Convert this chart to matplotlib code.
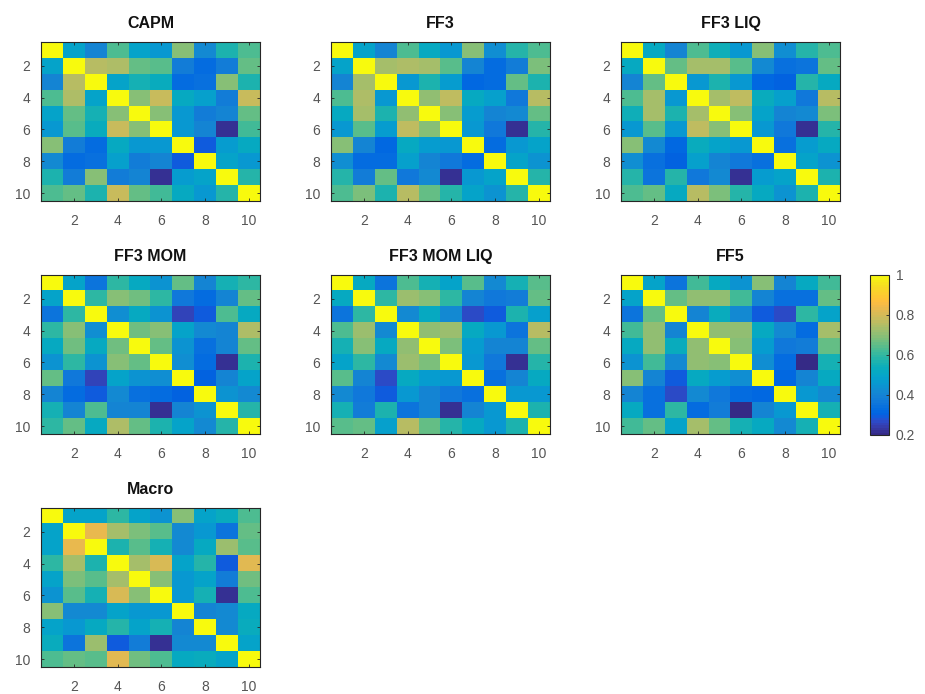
import numpy as np
import matplotlib
matplotlib.use("Agg")
import matplotlib.pyplot as plt
from matplotlib.colors import ListedColormap

plt.rcParams['font.family'] = ['Liberation Sans', 'DejaVu Sans']

titles = ["CAPM", "FF3", "FF3 LIQ", "FF3 MOM", "FF3 MOM LIQ", "FF5", "Macro"]
tick_vals = [2, 4, 6, 8, 10]
cbar_ticks = [0.2, 0.4, 0.6, 0.8, 1.0]
cbar_labels = ["0.2", "0.4", "0.6", "0.8", "1"]

capm = [
    [1.00, 0.50, 0.40, 0.63, 0.50, 0.45, 0.70, 0.42, 0.57, 0.63],
    [0.50, 1.00, 0.75, 0.74, 0.66, 0.64, 0.38, 0.33, 0.38, 0.65],
    [0.40, 0.75, 1.00, 0.50, 0.56, 0.53, 0.33, 0.35, 0.70, 0.57],
    [0.63, 0.74, 0.50, 1.00, 0.70, 0.78, 0.52, 0.48, 0.38, 0.78],
    [0.50, 0.66, 0.56, 0.70, 1.00, 0.69, 0.45, 0.38, 0.40, 0.65],
    [0.45, 0.64, 0.53, 0.78, 0.69, 1.00, 0.45, 0.40, 0.22, 0.62],
    [0.70, 0.38, 0.33, 0.52, 0.45, 0.45, 1.00, 0.30, 0.47, 0.52],
    [0.42, 0.33, 0.35, 0.48, 0.38, 0.40, 0.30, 1.00, 0.50, 0.45],
    [0.57, 0.38, 0.70, 0.38, 0.40, 0.22, 0.47, 0.50, 1.00, 0.58],
    [0.63, 0.65, 0.57, 0.78, 0.65, 0.62, 0.52, 0.45, 0.58, 1.00],
]

ff3 = [
    [1.00, 0.50, 0.40, 0.63, 0.52, 0.46, 0.70, 0.43, 0.58, 0.63],
    [0.50, 1.00, 0.73, 0.74, 0.73, 0.64, 0.40, 0.33, 0.38, 0.68],
    [0.40, 0.73, 1.00, 0.46, 0.57, 0.47, 0.32, 0.33, 0.66, 0.57],
    [0.63, 0.74, 0.46, 1.00, 0.71, 0.77, 0.52, 0.48, 0.37, 0.76],
    [0.52, 0.73, 0.57, 0.71, 1.00, 0.70, 0.47, 0.40, 0.42, 0.66],
    [0.46, 0.64, 0.47, 0.77, 0.70, 1.00, 0.46, 0.37, 0.22, 0.58],
    [0.70, 0.40, 0.32, 0.52, 0.47, 0.46, 1.00, 0.33, 0.46, 0.50],
    [0.43, 0.33, 0.33, 0.48, 0.40, 0.37, 0.33, 1.00, 0.50, 0.44],
    [0.58, 0.38, 0.66, 0.37, 0.42, 0.22, 0.46, 0.50, 1.00, 0.58],
    [0.63, 0.68, 0.57, 0.76, 0.66, 0.58, 0.50, 0.44, 0.58, 1.00],
]

ff3_liq = [
    [1.00, 0.52, 0.40, 0.63, 0.54, 0.46, 0.69, 0.43, 0.58, 0.63],
    [0.52, 1.00, 0.66, 0.73, 0.73, 0.64, 0.42, 0.35, 0.36, 0.66],
    [0.40, 0.66, 1.00, 0.46, 0.57, 0.46, 0.32, 0.31, 0.58, 0.52],
    [0.63, 0.73, 0.46, 1.00, 0.73, 0.77, 0.53, 0.48, 0.37, 0.75],
    [0.54, 0.73, 0.57, 0.73, 1.00, 0.70, 0.50, 0.41, 0.42, 0.68],
    [0.46, 0.64, 0.46, 0.77, 0.70, 1.00, 0.46, 0.37, 0.22, 0.58],
    [0.69, 0.42, 0.32, 0.53, 0.50, 0.46, 1.00, 0.35, 0.47, 0.52],
    [0.43, 0.35, 0.31, 0.48, 0.41, 0.37, 0.35, 1.00, 0.50, 0.44],
    [0.58, 0.36, 0.58, 0.37, 0.42, 0.22, 0.47, 0.50, 1.00, 0.57],
    [0.63, 0.66, 0.52, 0.75, 0.68, 0.58, 0.52, 0.44, 0.57, 1.00],
]

ff3_mom = [
    [1.00, 0.50, 0.36, 0.60, 0.52, 0.44, 0.66, 0.40, 0.55, 0.60],
    [0.50, 1.00, 0.60, 0.70, 0.67, 0.60, 0.37, 0.33, 0.40, 0.66],
    [0.36, 0.60, 1.00, 0.43, 0.52, 0.44, 0.26, 0.29, 0.63, 0.52],
    [0.60, 0.70, 0.43, 1.00, 0.67, 0.69, 0.50, 0.42, 0.40, 0.74],
    [0.52, 0.67, 0.52, 0.67, 1.00, 0.66, 0.44, 0.35, 0.41, 0.65],
    [0.44, 0.60, 0.44, 0.69, 0.66, 1.00, 0.43, 0.33, 0.22, 0.57],
    [0.66, 0.37, 0.26, 0.50, 0.44, 0.43, 1.00, 0.31, 0.40, 0.50],
    [0.40, 0.33, 0.29, 0.42, 0.35, 0.33, 0.31, 1.00, 0.44, 0.42],
    [0.55, 0.40, 0.63, 0.40, 0.41, 0.22, 0.40, 0.44, 1.00, 0.58],
    [0.60, 0.66, 0.52, 0.74, 0.65, 0.57, 0.50, 0.42, 0.58, 1.00],
]

ff3_mom_liq = [
    [1.00, 0.52, 0.36, 0.63, 0.55, 0.50, 0.64, 0.42, 0.56, 0.64],
    [0.52, 1.00, 0.60, 0.72, 0.70, 0.60, 0.40, 0.37, 0.38, 0.65],
    [0.36, 0.60, 1.00, 0.42, 0.52, 0.42, 0.27, 0.30, 0.57, 0.48],
    [0.63, 0.72, 0.42, 1.00, 0.71, 0.72, 0.52, 0.46, 0.36, 0.75],
    [0.55, 0.70, 0.52, 0.71, 1.00, 0.68, 0.47, 0.40, 0.41, 0.66],
    [0.50, 0.60, 0.42, 0.72, 0.68, 1.00, 0.46, 0.37, 0.22, 0.58],
    [0.64, 0.40, 0.27, 0.52, 0.47, 0.46, 1.00, 0.34, 0.40, 0.52],
    [0.42, 0.37, 0.30, 0.46, 0.40, 0.37, 0.34, 1.00, 0.46, 0.46],
    [0.56, 0.38, 0.57, 0.36, 0.41, 0.22, 0.40, 0.46, 1.00, 0.57],
    [0.64, 0.65, 0.48, 0.75, 0.66, 0.58, 0.52, 0.46, 0.57, 1.00],
]

ff5 = [
    [1.00, 0.50, 0.36, 0.62, 0.52, 0.44, 0.70, 0.40, 0.52, 0.62],
    [0.50, 1.00, 0.66, 0.71, 0.71, 0.62, 0.40, 0.34, 0.34, 0.65],
    [0.36, 0.66, 1.00, 0.41, 0.53, 0.42, 0.29, 0.27, 0.60, 0.50],
    [0.62, 0.71, 0.41, 1.00, 0.71, 0.71, 0.52, 0.42, 0.33, 0.73],
    [0.52, 0.71, 0.53, 0.71, 1.00, 0.69, 0.47, 0.37, 0.38, 0.66],
    [0.44, 0.62, 0.42, 0.71, 0.69, 1.00, 0.43, 0.33, 0.21, 0.55],
    [0.70, 0.40, 0.29, 0.52, 0.47, 0.43, 1.00, 0.32, 0.40, 0.52],
    [0.40, 0.34, 0.27, 0.42, 0.37, 0.33, 0.32, 1.00, 0.46, 0.42],
    [0.52, 0.34, 0.60, 0.33, 0.38, 0.21, 0.40, 0.46, 1.00, 0.55],
    [0.62, 0.65, 0.50, 0.73, 0.66, 0.55, 0.52, 0.42, 0.55, 1.00],
]

macro = [
    [1.00, 0.50, 0.50, 0.60, 0.50, 0.44, 0.69, 0.50, 0.53, 0.63],
    [0.50, 1.00, 0.83, 0.73, 0.68, 0.64, 0.42, 0.46, 0.36, 0.66],
    [0.50, 0.83, 1.00, 0.57, 0.64, 0.56, 0.42, 0.52, 0.72, 0.64],
    [0.60, 0.73, 0.57, 1.00, 0.73, 0.80, 0.50, 0.58, 0.30, 0.82],
    [0.50, 0.68, 0.64, 0.73, 1.00, 0.69, 0.46, 0.50, 0.38, 0.67],
    [0.44, 0.64, 0.56, 0.80, 0.69, 1.00, 0.46, 0.56, 0.22, 0.63],
    [0.69, 0.42, 0.42, 0.50, 0.46, 0.46, 1.00, 0.40, 0.42, 0.52],
    [0.50, 0.46, 0.52, 0.58, 0.50, 0.56, 0.40, 1.00, 0.42, 0.53],
    [0.53, 0.36, 0.72, 0.30, 0.38, 0.22, 0.42, 0.42, 1.00, 0.50],
    [0.63, 0.66, 0.64, 0.82, 0.67, 0.63, 0.52, 0.53, 0.50, 1.00],
]

matrices = [capm, ff3, ff3_liq, ff3_mom, ff3_mom_liq, ff5, macro]

parula_data = [
    [0.2081, 0.1663, 0.5292], [0.2116, 0.1898, 0.5777], [0.2123, 0.2138, 0.6270],
    [0.2081, 0.2386, 0.6771], [0.1959, 0.2645, 0.7279], [0.1707, 0.2919, 0.7792],
    [0.1253, 0.3242, 0.8303], [0.0591, 0.3598, 0.8683], [0.0117, 0.3875, 0.8820],
    [0.0060, 0.4086, 0.8828], [0.0165, 0.4266, 0.8786], [0.0329, 0.4430, 0.8720],
    [0.0498, 0.4586, 0.8641], [0.0629, 0.4737, 0.8554], [0.0723, 0.4887, 0.8467],
    [0.0779, 0.5040, 0.8384], [0.0793, 0.5200, 0.8312], [0.0749, 0.5375, 0.8263],
    [0.0641, 0.5570, 0.8240], [0.0488, 0.5772, 0.8228], [0.0343, 0.5966, 0.8199],
    [0.0265, 0.6137, 0.8135], [0.0239, 0.6287, 0.8038], [0.0231, 0.6418, 0.7913],
    [0.0228, 0.6535, 0.7768], [0.0267, 0.6642, 0.7607], [0.0384, 0.6743, 0.7436],
    [0.0590, 0.6838, 0.7254], [0.0843, 0.6928, 0.7062], [0.1133, 0.7015, 0.6859],
    [0.1453, 0.7098, 0.6646], [0.1801, 0.7177, 0.6424], [0.2178, 0.7250, 0.6193],
    [0.2586, 0.7317, 0.5954], [0.3022, 0.7376, 0.5712], [0.3482, 0.7424, 0.5473],
    [0.3953, 0.7459, 0.5244], [0.4420, 0.7481, 0.5033], [0.4871, 0.7491, 0.4840],
    [0.5300, 0.7491, 0.4661], [0.5709, 0.7485, 0.4494], [0.6099, 0.7473, 0.4337],
    [0.6473, 0.7456, 0.4188], [0.6834, 0.7435, 0.4044], [0.7184, 0.7411, 0.3905],
    [0.7525, 0.7384, 0.3768], [0.7858, 0.7356, 0.3633], [0.8185, 0.7327, 0.3498],
    [0.8507, 0.7299, 0.3360], [0.8824, 0.7274, 0.3217], [0.9139, 0.7258, 0.3063],
    [0.9450, 0.7261, 0.2886], [0.9739, 0.7314, 0.2666], [0.9938, 0.7455, 0.2403],
    [0.9990, 0.7653, 0.2164], [0.9955, 0.7861, 0.1967], [0.9880, 0.8066, 0.1794],
    [0.9789, 0.8271, 0.1633], [0.9697, 0.8481, 0.1475], [0.9626, 0.8705, 0.1309],
    [0.9589, 0.8949, 0.1132], [0.9598, 0.9218, 0.0948], [0.9661, 0.9514, 0.0755],
    [0.9763, 0.9831, 0.0538],
]
parula = ListedColormap(parula_data, name="parula")

W, H = 925, 694
fig = plt.figure(figsize=(W / 100, H / 100), dpi=100)

axc = '#262626'
col_left = [41, 331, 621]
row_top = [42, 275, 508]
aw, ah = 219, 159

def px_rect(x, y, w, h):
    return [x / W, 1 - (y + h) / H, w / W, h / H]

im = None
for i, (mat, title) in enumerate(zip(matrices, titles)):
    r, c = divmod(i, 3)
    ax = fig.add_axes(px_rect(col_left[c], row_top[r], aw, ah))
    data = np.array(mat)
    n = data.shape[0]
    im = ax.imshow(data, cmap=parula, vmin=0.2, vmax=1.0, aspect='auto',
                   interpolation='nearest',
                   extent=(0.5, n + 0.5, n + 0.5, 0.5))
    ax.set_xticks(tick_vals)
    ax.set_yticks(tick_vals)
    ax.set_xticklabels([str(t) for t in tick_vals])
    ax.set_yticklabels([str(t) for t in tick_vals])
    ax.tick_params(direction='in', length=2.5, width=0.6, color=axc,
                   labelsize=10, labelcolor='#555555', top=True, right=True)
    ax.tick_params(axis='x', pad=9.5)
    ax.tick_params(axis='y', pad=8)
    for sp in ax.spines.values():
        sp.set_color(axc)
        sp.set_linewidth(0.8)
    ax.set_title(title, fontsize=11.5, fontweight='bold', color='#111111', pad=10)

cax = fig.add_axes(px_rect(870, 275, 19, 160))
cb = fig.colorbar(im, cax=cax, ticks=cbar_ticks)
cb.ax.set_yticklabels(cbar_labels)
cb.ax.tick_params(direction='in', length=2.5, width=0.6, color=axc,
                  labelsize=10, labelcolor='#555555', pad=5)
cb.outline.set_edgecolor(axc)
cb.outline.set_linewidth(0.8)

fig.savefig("out.png", dpi=100)
